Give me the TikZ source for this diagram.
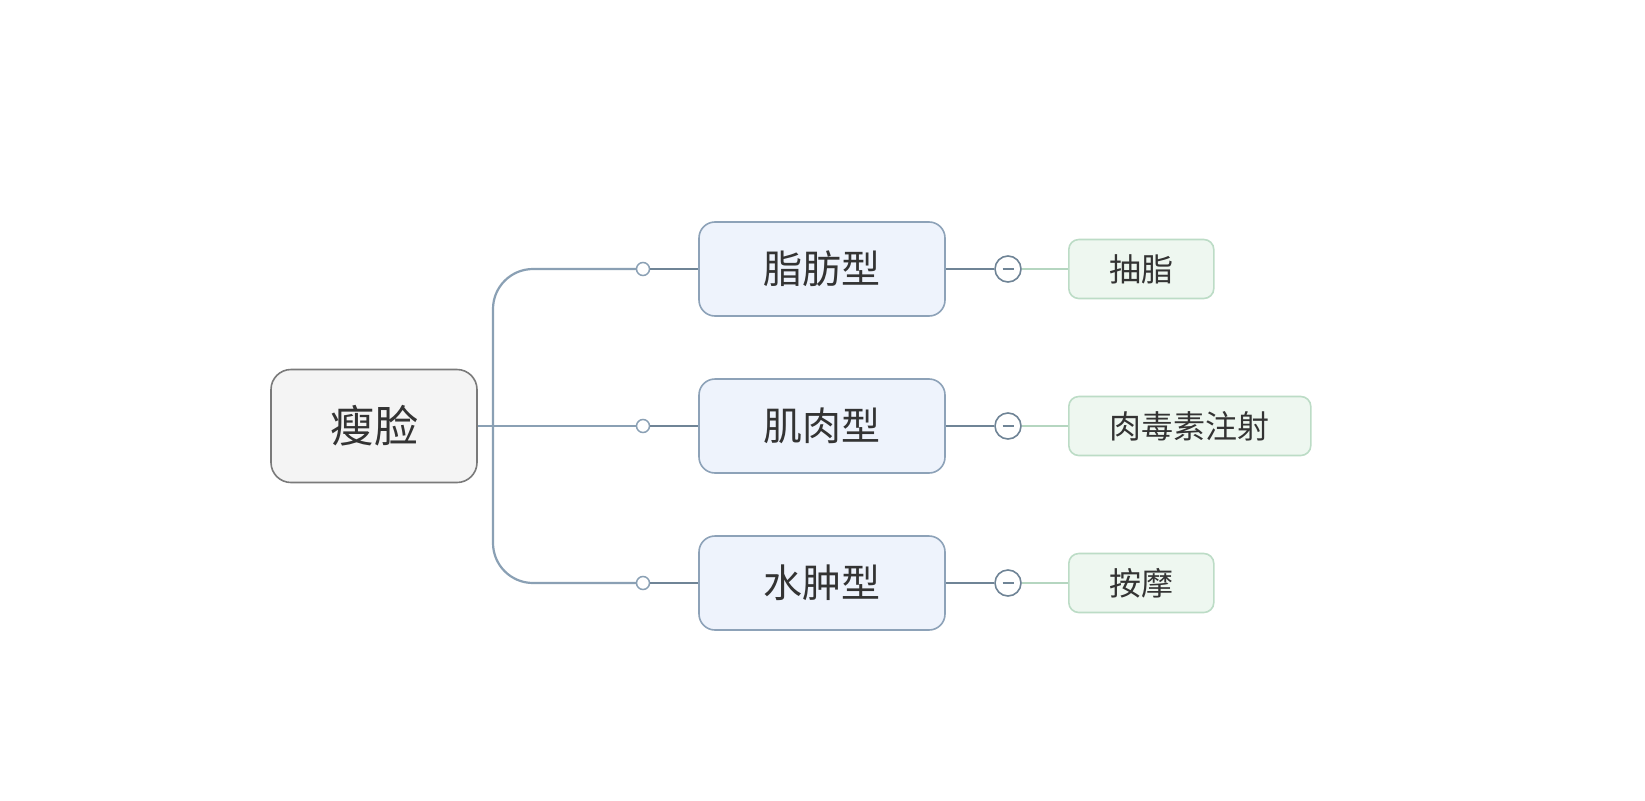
\documentclass[tikz,border=0pt]{standalone}
\usepackage{fontspec}
\newfontfamily\cjk{Noto Sans CJK SC}
\definecolor{txt}{HTML}{333333}
\definecolor{rootfill}{HTML}{F4F4F4}
\definecolor{rootdraw}{HTML}{7A7A7A}
\definecolor{brfill}{HTML}{EEF3FC}
\definecolor{brdraw}{HTML}{8DA2B8}
\definecolor{leaffill}{HTML}{EEF7F0}
\definecolor{leafdraw}{HTML}{BCDCC6}
\definecolor{linec}{HTML}{8AA0B4}
\definecolor{lined}{HTML}{6F8496}
\definecolor{lineg}{HTML}{B5D6C0}
\begin{document}
\begin{tikzpicture}[x=1pt,y=-1pt,
  rootbox/.style={draw=rootdraw,fill=rootfill,line width=1.6pt,rounded corners=20pt,
    minimum width=206pt,minimum height=113pt,inner sep=0pt,text=txt,
    font=\cjk\fontsize{44}{50}\selectfont},
  brbox/.style={draw=brdraw,fill=brfill,line width=1.6pt,rounded corners=16pt,
    minimum width=246pt,minimum height=94pt,inner sep=0pt,text=txt,
    font=\cjk\fontsize{39}{45}\selectfont},
  leafbox/.style={draw=leafdraw,fill=leaffill,line width=1.6pt,rounded corners=10pt,
    minimum height=59pt,inner sep=0pt,text=txt,anchor=west,
    font=\cjk\fontsize{32}{38}\selectfont},
  smallcirc/.style={circle,draw=linec,fill=white,line width=1.5pt,minimum size=13pt,inner sep=0pt},
  minuscirc/.style={circle,draw=lined,fill=white,line width=1.6pt,minimum size=26pt,inner sep=0pt},
  conn/.style={draw=linec,line width=2.2pt},
  connd/.style={draw=lined,line width=2.2pt},
  conng/.style={draw=lineg,line width=2.2pt}
]
\useasboundingbox[fill=white] (0,0) rectangle (1645,800);

\node[rootbox] (root) at (374,426) {瘦脸};
\node[brbox] (b1) at (822,269) {脂肪型};
\node[brbox] (b2) at (822,426) {肌肉型};
\node[brbox] (b3) at (822,583) {水肿型};
\node[leafbox,minimum width=145pt] (l1) at (1068,269) {抽脂};
\node[leafbox,minimum width=242pt] (l2) at (1068,426) {肉毒素注射};
\node[leafbox,minimum width=145pt] (l3) at (1068,583) {按摩};

\coordinate (hub) at (493,426);
\node[smallcirc] (k1) at (643,269) {};
\node[smallcirc] (k2) at (643,426) {};
\node[smallcirc] (k3) at (643,583) {};
\node[minuscirc] (m1) at (1008,269) {};
\node[minuscirc] (m2) at (1008,426) {};
\node[minuscirc] (m3) at (1008,583) {};

% left connectors
\draw[conn] (root.east) -- (k2.west);
\draw[conn,rounded corners=40pt] (k1.west) -| (hub);
\draw[conn,rounded corners=40pt] (k3.west) -| (hub);
\draw[connd] (k1.east) -- (b1.west);
\draw[connd] (k2.east) -- (b2.west);
\draw[connd] (k3.east) -- (b3.west);

% right connectors
\draw[connd] (b1.east) -- (m1.west);
\draw[connd] (b2.east) -- (m2.west);
\draw[connd] (b3.east) -- (m3.west);
\draw[conng] (m1.east) -- (l1.west);
\draw[conng] (m2.east) -- (l2.west);
\draw[conng] (m3.east) -- (l3.west);

% minus signs
\foreach \m in {m1,m2,m3}{
  \draw[lined,line width=2.2pt] ([xshift=-5.5pt]\m.center) -- ([xshift=5.5pt]\m.center);
}
\end{tikzpicture}
\end{document}
